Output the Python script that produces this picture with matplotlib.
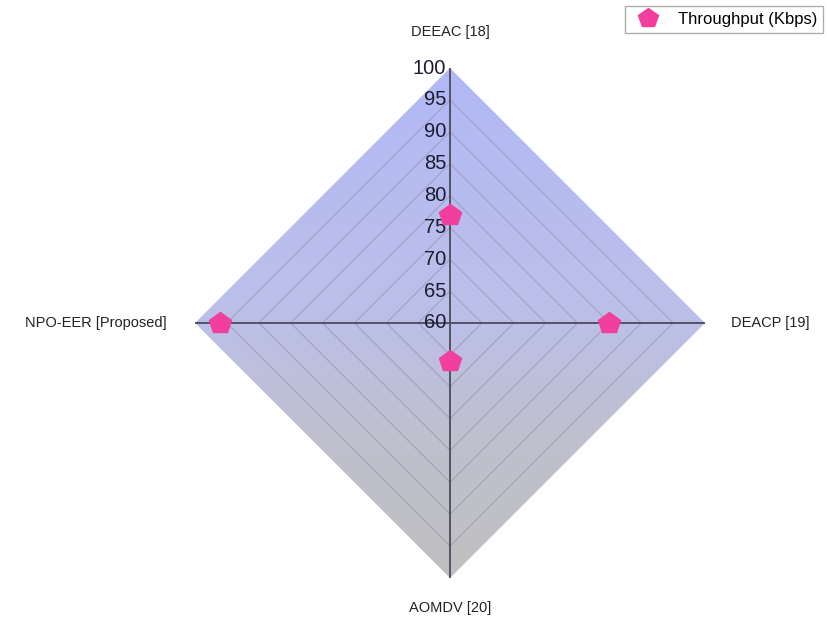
import numpy as np
import matplotlib.pyplot as plt
from matplotlib.colors import LinearSegmentedColormap
from matplotlib.patches import Polygon
from matplotlib.lines import Line2D

plt.rcParams['font.family'] = 'Liberation Sans'

# data
labels = ['DEEAC [18]', 'DEACP [19]', 'AOMDV [20]', 'NPO-EER [Proposed]']
throughput = [77, 85, 66, 96]
r_min, r_max = 60, 100
r_ticks = [60, 65, 70, 75, 80, 85, 90, 95, 100]
series_name = 'Throughput (Kbps)'

# directions: top, right, bottom, left (clockwise)
angles = np.pi / 2 - np.arange(len(labels)) * 2 * np.pi / len(labels)
ux, uy = np.cos(angles), np.sin(angles)
R = r_max - r_min

fig = plt.figure(figsize=(8.28, 6.23), dpi=100)
ax = fig.add_axes([195 / 828, 45 / 623, 510 / 828, 510 / 623])
ax.set_xlim(-R, R)
ax.set_ylim(-R, R)
ax.axis('off')

# gradient background clipped to the outer diamond
outer = Polygon(np.column_stack([ux * R, uy * R]), closed=True,
                facecolor='none', edgecolor='none')
ax.add_patch(outer)
cmap = LinearSegmentedColormap.from_list(
    'bg', [(0, '#c0c0c0'), (0.3, '#bfbfd0'), (0.5, '#bcc0e8'), (1, '#b2b8f6')])
grad = np.linspace(0, 1, 256).reshape(-1, 1)
im = ax.imshow(grad, cmap=cmap, extent=[-R, R, -R, R], origin='lower',
               aspect='auto', zorder=1)
im.set_clip_path(outer)

# grid diamonds
for t in r_ticks[1:-1]:
    d = t - r_min
    xs = np.append(ux * d, ux[0] * d)
    ys = np.append(uy * d, uy[0] * d)
    ax.plot(xs, ys, color='#9090a8', lw=0.8, alpha=0.6, zorder=2)

# spokes
for i in range(len(labels)):
    ax.plot([0, ux[i] * R], [0, uy[i] * R], color='#4a4a5a', lw=1.3, zorder=3)

# tick labels on the top spoke
for t in r_ticks:
    ax.text(-0.6, t - r_min, str(t), ha='right', va='center',
            fontsize=14.5, color='#1c1c30', zorder=4)

# axis labels
ax.text(0, R + 5.6, labels[0], ha='center', va='center', fontsize=10.5,
        color='#222222', clip_on=False)
ax.text(R + 4.1, 0, labels[1], ha='left', va='center', fontsize=10.5,
        color='#222222', clip_on=False)
ax.text(0, -R - 4.7, labels[2], ha='center', va='center', fontsize=10.5,
        color='#222222', clip_on=False)
ax.text(-R - 4.4, 0, labels[3], ha='right', va='center', fontsize=10.5,
        color='#222222', clip_on=False)

# markers
vals = np.array(throughput) - r_min
ax.plot(ux * vals, uy * vals, linestyle='none', marker='p', ms=16,
        color='#f23f9d', zorder=5)

handle = Line2D([], [], linestyle='none', marker='p', ms=15, color='#f23f9d')
fig.legend([handle], [series_name], loc='upper right',
           bbox_to_anchor=(823 / 828, 1 - 6 / 623), fontsize=12,
           frameon=True, fancybox=False, edgecolor='#999999',
           borderpad=0.35, handletextpad=0.8, borderaxespad=0)

plt.savefig('out.png', dpi=100)
